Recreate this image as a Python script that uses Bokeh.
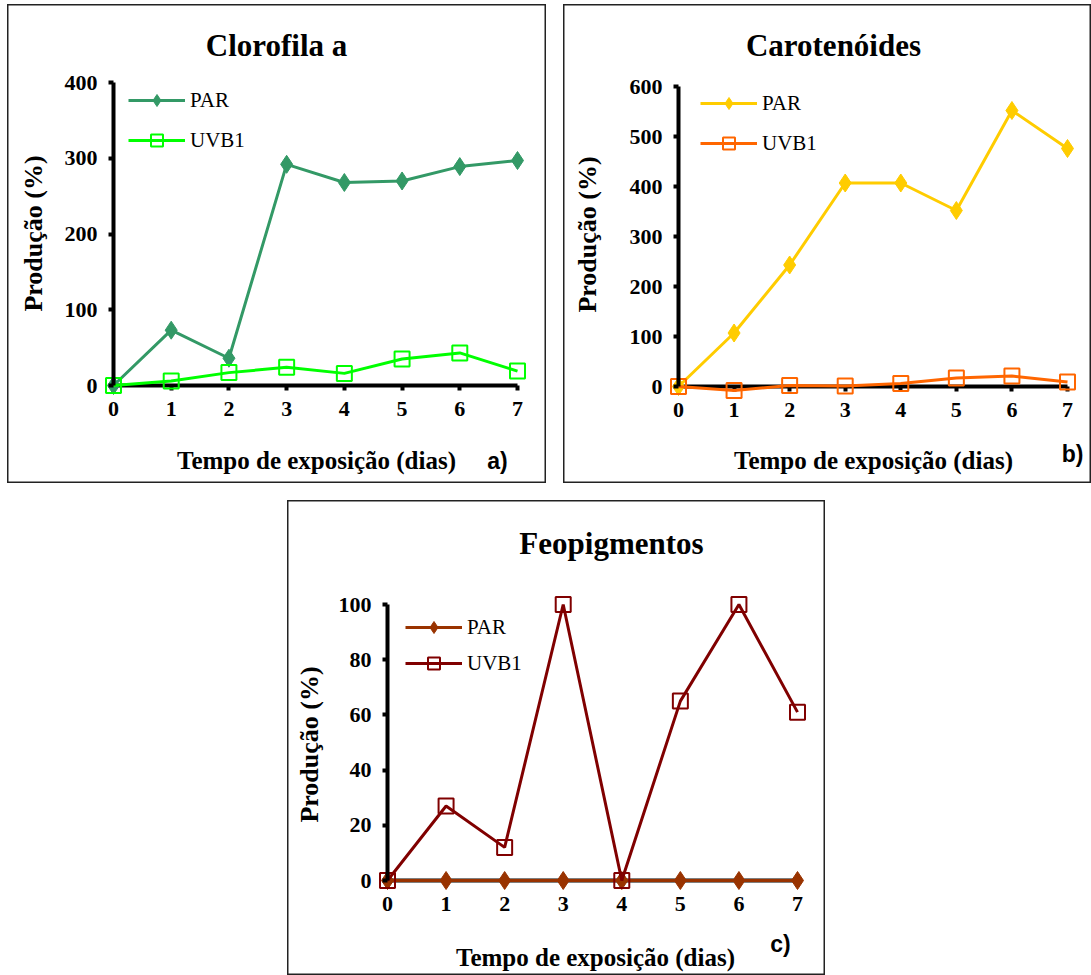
from bokeh.plotting import figure
from bokeh.models import LinearAxis, Label, Legend, LegendItem, Range1d, FixedTicker, Spacer
from bokeh.layouts import column, row
from bokeh.embed import file_html
from bokeh.resources import INLINE
from math import pi

# ---------------- data ----------------
days = [0, 1, 2, 3, 4, 5, 6, 7]
series_names = ["PAR", "UVB1"]

clorofila_par = [0, 73, 36, 292, 268, 270, 289, 297]
clorofila_uvb1 = [0, 6, 17, 24, 16, 35, 43, 19]

carot_par = [0, 107, 243, 407, 407, 352, 552, 476]
carot_uvb1 = [0, -8, 2, 1, 6, 17, 21, 9]

feo_par = [0, 0, 0, 0, 0, 0, 0, 0]
feo_uvb1 = [0, 27, 12, 100, 0, 65, 100, 61]

ticks_a = [0, 100, 200, 300, 400]
ticks_b = [0, 100, 200, 300, 400, 500, 600]
ticks_c = [0, 20, 40, 60, 80, 100]

SERIF = "Liberation Serif"
SANS = "Liberation Sans"


def make_panel(W, H, ax_px, x7_px, y0_px, ytop_px, yticks, par, uvb1, col_par, col_uvb1,
               title, title_c, xlab_c, ylab_c, letter_c, leg_px, leg_gap):
    ymax = yticks[-1]
    xmax = days[-1]
    sx = (x7_px - ax_px) / xmax
    x_start = -ax_px / sx
    x_end = x_start + W / sx
    sy = (y0_px - ytop_px) / ymax
    y_end = ymax + ytop_px / sy
    y_start = y_end - H / sy

    def dx(px):
        return x_start + px / sx

    def dy(py):
        return y_end - py / sy

    p = figure(width=W, height=H, x_range=Range1d(x_start, x_end), y_range=Range1d(y_start, y_end),
               x_axis_type=None, y_axis_type=None, min_border=0, toolbar_location=None,
               output_backend="svg", outline_line_color="#222222", outline_line_width=2,
               background_fill_color="white", border_fill_color="white")

    for ax, side, tks, bnds, lvl in ((LinearAxis(), "below", days, (0, xmax), "underlay"),
                                     (LinearAxis(), "left", yticks, (0, ymax), "guide")):
        ax.fixed_location = 0
        ax.bounds = bnds
        ax.ticker = FixedTicker(ticks=tks)
        ax.axis_line_width = 4
        ax.axis_line_color = "black"
        ax.major_tick_line_width = 4
        ax.major_tick_line_color = "black"
        ax.major_tick_out = 5
        ax.major_tick_in = 0
        ax.minor_tick_line_color = None
        ax.major_label_text_font = SERIF
        ax.major_label_text_font_style = "bold"
        ax.major_label_text_font_size = "22px"
        ax.major_label_text_color = "black"
        ax.major_label_standoff = 11
        ax.level = lvl
        p.add_layout(ax, side)

    l1 = p.line(days, par, line_color=col_par, line_width=3)
    m1 = p.scatter(days, par, marker="diamond", size=18, fill_color=col_par, line_color=col_par)
    l2 = p.line(days, uvb1, line_color=col_uvb1, line_width=3)
    m2 = p.scatter(days, uvb1, marker="square", size=15, fill_alpha=0, line_color=col_uvb1,
                   line_width=2)

    gh = 30
    legend = Legend(items=[LegendItem(label=series_names[0], renderers=[l1, m1]),
                           LegendItem(label=series_names[1], renderers=[l2, m2])],
                    location=(leg_px[0], H - leg_px[1] - (2 * gh + leg_gap)),
                    glyph_width=57, glyph_height=gh,
                    spacing=leg_gap, label_standoff=5, padding=0, margin=0,
                    background_fill_alpha=0, border_line_alpha=0,
                    label_text_font=SERIF, label_text_font_size="21px", label_text_color="black")
    p.add_layout(legend)

    p.add_layout(Label(x=dx(title_c[0]), y=dy(title_c[1]), text=title, text_font=SERIF,
                       text_font_style="bold", text_font_size="31px", text_align="center",
                       text_baseline="middle", text_color="black"))
    p.add_layout(Label(x=dx(xlab_c[0]), y=dy(xlab_c[1]), text="Tempo de exposição (dias)",
                       text_font=SERIF, text_font_style="bold", text_font_size="25px",
                       text_align="center", text_baseline="middle", text_color="black"))
    p.add_layout(Label(x=dx(ylab_c[0]), y=dy(ylab_c[1]), text="Produção (%)", angle=pi / 2,
                       text_font=SERIF, text_font_style="bold", text_font_size="26px",
                       text_align="center", text_baseline="middle", text_color="black"))
    p.add_layout(Label(x=dx(letter_c[0]), y=dy(letter_c[1]), text=letter_c[2], text_font=SANS,
                       text_font_style="bold", text_font_size="23px", text_align="center",
                       text_baseline="middle", text_color="black"))
    return p


# panel a: page origin (7, 4)
pa = make_panel(539, 479, 106, 510, 381, 78, ticks_a, clorofila_par, clorofila_uvb1,
                "#339966", "#00FF00", "Clorofila a", (269, 41), (309, 456), (26, 229),
                (490, 456, "a)"), (121, 81), 10)
# panel b: page origin (563, 4)
pb = make_panel(528, 479, 115, 504, 382, 82, ticks_b, carot_par, carot_uvb1,
                "#FFCC00", "#FF6600", "Carotenóides", (270, 41), (310, 456), (24, 230),
                (509, 449, "b)"), (137, 84), 10)
# panel c: page origin (287, 500)
pc = make_panel(538, 475, 100, 510, 380, 104, ticks_c, feo_par, feo_uvb1,
                "#993300", "#800000", "Feopigmentos", (324, 43), (308, 457), (22, 244),
                (493, 443, "c)"), (118, 112), 6)

layout = column(Spacer(height=4),
                row(Spacer(width=7), pa, Spacer(width=17), pb),
                Spacer(height=17),
                row(Spacer(width=287), pc))

open("out.html", "w").write(file_html(layout, INLINE))
